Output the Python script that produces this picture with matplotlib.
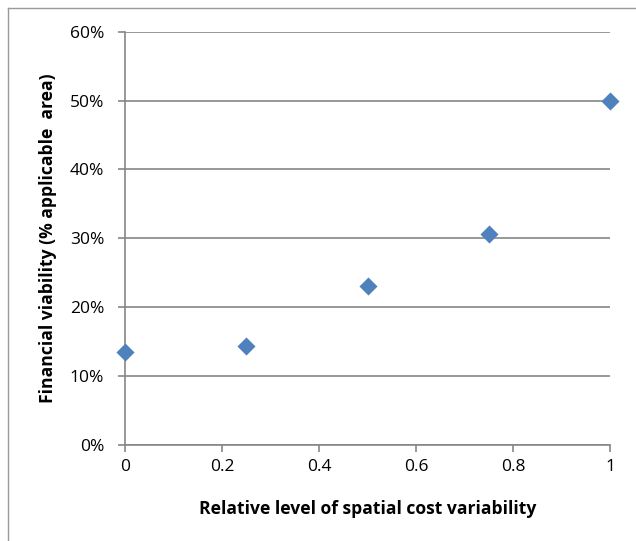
import matplotlib
matplotlib.use("Agg")
import matplotlib.pyplot as plt
from matplotlib.ticker import FuncFormatter
from matplotlib.lines import Line2D

x_vals = [0, 0.25, 0.5, 0.75, 1.0]
y_vals = [0.135, 0.143, 0.231, 0.307, 0.500]
x_ticks = [0, 0.2, 0.4, 0.6, 0.8, 1]
y_ticks = [0, 0.1, 0.2, 0.3, 0.4, 0.5, 0.6]
x_label = "Relative level of spatial cost variability"
y_label = "Financial viability (% applicable  area)"

plt.rcParams['font.family'] = ['Open Sans', 'DejaVu Sans']

W, H = 636, 541
fig = plt.figure(figsize=(W/100, H/100), dpi=100)
ax = fig.add_axes([125/W, 1-445/H, (610-125)/W, (445-31.7)/H])

gray = '#868686'
ax.scatter(x_vals, y_vals, marker='D', s=85, color='#4F81BD', zorder=3, clip_on=False, linewidths=0)
ax.set_xlim(0, 1)
ax.set_ylim(0, 0.6)
ax.set_xticks(x_ticks)
ax.set_yticks(y_ticks)
ax.xaxis.set_major_formatter(FuncFormatter(lambda v, p: f"{v:g}"))
ax.yaxis.set_major_formatter(FuncFormatter(lambda v, p: f"{v*100:.0f}%"))
ax.grid(axis='y', color=gray, linewidth=1.2)
ax.set_axisbelow(True)
for s in ['top', 'right']:
    ax.spines[s].set_visible(False)
for s in ['left', 'bottom']:
    ax.spines[s].set_color(gray)
    ax.spines[s].set_linewidth(1.2)
ax.tick_params(axis='both', colors=gray, labelcolor='black', labelsize=12.5, length=5, width=1.2, direction='out')
ax.tick_params(axis='x', pad=5)
ax.tick_params(axis='y', pad=10)

fig.text(368/W, 1-509/H, x_label, ha='center', va='center', fontsize=12.6, fontweight='bold')
fig.text(48/W, 1-238/H, y_label, ha='center', va='center', fontsize=12.6, fontweight='bold', rotation=90)

# outer chart border (left and top edges visible)
fig.add_artist(Line2D([7.5/W, 7.5/W], [0, 1-8/H], transform=fig.transFigure, color='#999999', linewidth=1))
fig.add_artist(Line2D([7.5/W, 1], [1-8/H, 1-8/H], transform=fig.transFigure, color='#999999', linewidth=1))

fig.savefig("out.png", dpi=100, facecolor='white')
